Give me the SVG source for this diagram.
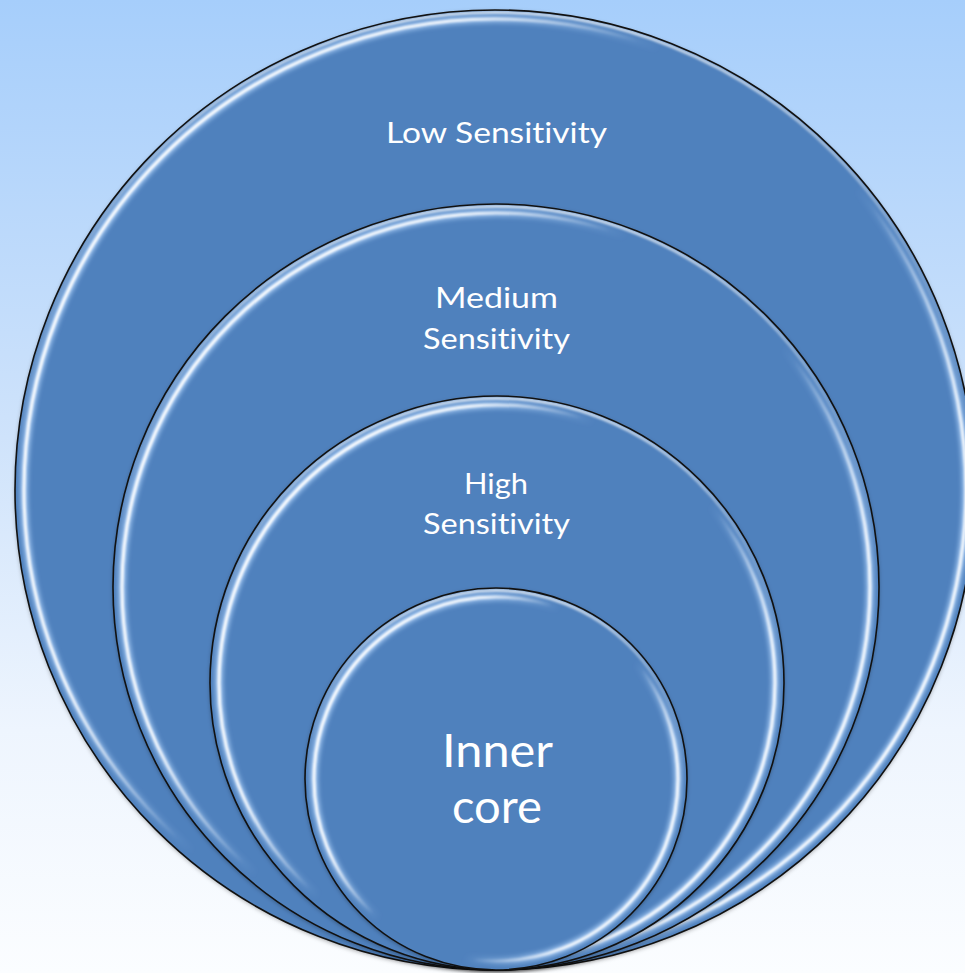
<svg xmlns="http://www.w3.org/2000/svg" width="965" height="973" viewBox="0 0 965 973">
  <defs>
    <linearGradient id="bg" x1="0" y1="0" x2="0" y2="1">
      <stop offset="0" stop-color="#a6cefb"/>
      <stop offset="0.45" stop-color="#cfe3fb"/>
      <stop offset="0.75" stop-color="#eef5fe"/>
      <stop offset="1" stop-color="#fbfdff"/>
    </linearGradient>
    <!-- side highlight: strong on the left, and on the lower right -->
    <linearGradient id="sheen" x1="0" y1="0.32" x2="1" y2="0.9">
      <stop offset="0" stop-color="#ffffff" stop-opacity="1"/>
      <stop offset="0.2" stop-color="#ffffff" stop-opacity="0.9"/>
      <stop offset="0.36" stop-color="#ffffff" stop-opacity="0"/>
      <stop offset="0.62" stop-color="#ffffff" stop-opacity="0"/>
      <stop offset="0.8" stop-color="#ffffff" stop-opacity="0.9"/>
      <stop offset="1" stop-color="#ffffff" stop-opacity="1"/>
    </linearGradient>
    <linearGradient id="halo" x1="0" y1="0.32" x2="1" y2="0.9">
      <stop offset="0" stop-color="#a9cdf7" stop-opacity="0.9"/>
      <stop offset="0.22" stop-color="#a9cdf7" stop-opacity="0.7"/>
      <stop offset="0.38" stop-color="#a9cdf7" stop-opacity="0"/>
      <stop offset="0.6" stop-color="#a9cdf7" stop-opacity="0"/>
      <stop offset="0.78" stop-color="#a9cdf7" stop-opacity="0.8"/>
      <stop offset="1" stop-color="#a9cdf7" stop-opacity="0.9"/>
    </linearGradient>
    <!-- soft light rim just under the outline at the top -->
    <linearGradient id="rim" x1="0" y1="0" x2="0" y2="1">
      <stop offset="0" stop-color="#ffffff" stop-opacity="0.75"/>
      <stop offset="0.25" stop-color="#ffffff" stop-opacity="0.25"/>
      <stop offset="0.5" stop-color="#ffffff" stop-opacity="0"/>
      <stop offset="1" stop-color="#ffffff" stop-opacity="0"/>
    </linearGradient>
    <filter id="shadow" x="-5%" y="-5%" width="110%" height="110%">
      <feDropShadow dx="0" dy="1.5" stdDeviation="2" flood-color="#000" flood-opacity="0.35"/>
    </filter>
    <filter id="soft" x="-5%" y="-5%" width="110%" height="110%">
      <feGaussianBlur stdDeviation="0.9"/>
    </filter>
    <filter id="softer" x="-5%" y="-5%" width="110%" height="110%">
      <feGaussianBlur stdDeviation="2"/>
    </filter>
  </defs>
  <style>
    .disc { fill: #4f81bd; filter: url(#shadow); }
    .edge { fill: none; stroke: #111111; stroke-width: 1.6; }
    .halo { fill: none; stroke: url(#halo); stroke-width: 8; filter: url(#softer); }
    .sheen { fill: none; stroke: url(#sheen); stroke-width: 3; filter: url(#soft); }
    .rim { fill: none; stroke: url(#rim); stroke-width: 3; filter: url(#soft); }
    .lbl { fill: #ffffff; font-family: Lato, "Open Sans", "Liberation Sans", sans-serif; font-size: 29px; text-anchor: middle; font-variant-ligatures: none; font-feature-settings: "liga" 0; }
    .big { font-size: 46px; }
  </style>

  <rect x="0" y="0" width="965" height="973" fill="url(#bg)"/>

  <!-- outermost ring -->
  <g id="low-sensitivity">
    <circle class="disc" cx="495" cy="490" r="480"/>
    <circle class="rim" cx="495" cy="490" r="477.5"/>
    <circle class="halo" cx="495" cy="490" r="471"/>
    <circle class="sheen" cx="495" cy="490" r="471"/>
    <circle class="edge" cx="495" cy="490" r="480"/>
    <text class="lbl" x="496.5" y="143" textLength="221" lengthAdjust="spacingAndGlyphs">Low Sensitivity</text>
  </g>

  <g id="medium-sensitivity">
    <circle class="disc" cx="496" cy="587" r="383"/>
    <circle class="rim" cx="496" cy="587" r="380.5"/>
    <circle class="halo" cx="496" cy="587" r="374"/>
    <circle class="sheen" cx="496" cy="587" r="374"/>
    <circle class="edge" cx="496" cy="587" r="383"/>
    <text class="lbl" x="496.5" y="308" textLength="123" lengthAdjust="spacingAndGlyphs">Medium</text>
    <text class="lbl" x="496.5" y="349" textLength="147" lengthAdjust="spacingAndGlyphs">Sensitivity</text>
  </g>

  <g id="high-sensitivity">
    <circle class="disc" cx="497" cy="683" r="287"/>
    <circle class="rim" cx="497" cy="683" r="284.5"/>
    <circle class="halo" cx="497" cy="683" r="278"/>
    <circle class="sheen" cx="497" cy="683" r="278"/>
    <circle class="edge" cx="497" cy="683" r="287"/>
    <text class="lbl" x="496" y="494" textLength="64" lengthAdjust="spacingAndGlyphs">High</text>
    <text class="lbl" x="496.5" y="534" textLength="147" lengthAdjust="spacingAndGlyphs">Sensitivity</text>
  </g>

  <g id="inner-core">
    <circle class="disc" cx="496" cy="779" r="191"/>
    <circle class="rim" cx="496" cy="779" r="188.5"/>
    <circle class="halo" cx="496" cy="779" r="182"/>
    <circle class="sheen" cx="496" cy="779" r="182"/>
    <circle class="edge" cx="496" cy="779" r="191"/>
    <text class="lbl big" x="497.5" y="767" textLength="111" lengthAdjust="spacingAndGlyphs">Inner</text>
    <text class="lbl big" x="497" y="823" textLength="90" lengthAdjust="spacingAndGlyphs">core</text>
  </g>
</svg>
